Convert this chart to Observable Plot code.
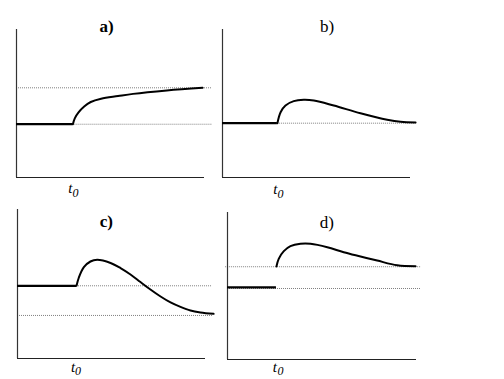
<!DOCTYPE html>
<html><head><meta charset="utf-8">
<script src="https://cdn.jsdelivr.net/npm/d3@7"></script>
<script src="https://cdn.jsdelivr.net/npm/@observablehq/plot@0.6"></script>
<style>
html,body{margin:0;padding:0;background:#fff;}
#chart{position:relative;width:504px;height:379px;overflow:hidden;background:#fff;}
#chart > svg{position:absolute;}
#chart text{font-family:"Liberation Serif","DejaVu Serif",serif !important;}
</style></head><body><div id="chart"></div>
<script>
// ---- data (time t, value v; axis spans 0..10 in both) ----
const panelLabels = ["a)", "b)", "c)", "d)"];
const t0Label = "t", t0Sub = "0";

// panel a
const aT0 = 3.0, aBase = 3.6;
const aCurveT = [3.0, 3.1, 3.3, 3.6, 3.95, 4.5, 5.4, 6.2, 8.0, 9.9];
const aCurveV = [3.6, 4.0, 4.4, 4.8, 5.1, 5.32, 5.5, 5.65, 5.88, 6.06];
const aRefV = [6.06, 3.6];
const aRefFrom = [0, 3.0];
const aRefTo = [10.4, 10.4];

// panel b
const bT0 = 2.92, bBase = 3.67;
const bCurveT = [2.92, 3.09, 3.35, 3.79, 4.32, 4.86, 5.92, 7.34, 8.76, 9.47, 10.27];
const bCurveV = [3.67, 4.41, 4.86, 5.16, 5.25, 5.2, 4.86, 4.34, 3.9, 3.76, 3.72];
const bRefV = [3.67];
const bRefFrom = [2.92];
const bRefTo = [10.3];

// panel c
const cT0 = 3.14, cBase = 4.88;
const cCurveT = [3.14, 3.26, 3.53, 3.88, 4.24, 4.95, 5.48, 6.01, 6.54, 7.07, 7.61, 8.14, 8.67, 9.2, 9.73, 10.43];
const cCurveV = [4.88, 5.42, 6.13, 6.51, 6.62, 6.41, 6.07, 5.64, 5.13, 4.63, 4.16, 3.76, 3.46, 3.22, 3.09, 3.0];
const cRefV = [4.88, 2.89];
const cRefFrom = [3.14, 0];
const cRefTo = [10.37, 10.37];

// panel d
const dT0 = 2.59, dBase = 4.9;
const dCurveT = [2.59, 2.71, 2.98, 3.33, 3.86, 4.39, 5.28, 6.15, 7.04, 7.92, 8.98, 9.95];
const dCurveV = [6.33, 6.85, 7.37, 7.71, 7.87, 7.87, 7.64, 7.3, 7.01, 6.73, 6.41, 6.35];
const dRefV = [6.31, 4.83];
const dRefFrom = [-0.1, 0];
const dRefTo = [10.26, 10.26];

// ---- layout ----
const panels = [
  {label: panelLabels[0], bold: true,  t0: aT0, base: aBase, ct: aCurveT, cv: aCurveV, rv: aRefV, rf: aRefFrom, rt: aRefTo,
   box: {left: 0, top: 0, width: 230, height: 200, ml: 16, mr: 26, mt: 29, mb: 23},
   title: {t: 4.79, v: 10.17}, sub: {tdx: -2.5, sdx: 2.5, tv: -0.72, sdy: 5}},
  {label: panelLabels[1], bold: false, t0: bT0, base: bBase, ct: bCurveT, cv: bCurveV, rv: bRefV, rf: bRefFrom, rt: bRefTo,
   box: {left: 200, top: 0, width: 230, height: 200, ml: 22, mr: 20, mt: 29, mb: 23},
   title: {t: 5.56, v: 10.17}, sub: {tdx: -2, sdx: 3, tv: -0.78, sdy: 5}},
  {label: panelLabels[2], bold: true,  t0: cT0, base: cBase, ct: cCurveT, cv: cCurveV, rv: cRefV, rf: cRefFrom, rt: cRefTo,
   box: {left: 0, top: 190, width: 230, height: 189, ml: 17, mr: 25, mt: 19, mb: 21},
   title: {t: 4.73, v: 9.19}, sub: {tdx: -3.5, sdx: 1.5, tv: -0.55, sdy: 4}},
  {label: panelLabels[3], bold: false, t0: dT0, base: dBase, ct: dCurveT, cv: dCurveV, rv: dRefV, rf: dRefFrom, rt: dRefTo,
   box: {left: 205, top: 190, width: 230, height: 189, ml: 22, mr: 19, mt: 22, mb: 20},
   title: {t: 5.26, v: 9.35}, sub: {tdx: -1.5, sdx: 4, tv: -0.5, sdy: 4}}
];

const chart = document.getElementById("chart");
const serif = "Liberation Serif";

for (const p of panels) {
  const curve = p.ct.map((t, i) => ({t, v: p.cv[i]}));
  const refs = p.rv.map((v, i) => ({v, a: p.rf[i], b: p.rt[i]}));
  const b = p.box;
  const svg = Plot.plot({
    width: b.width, height: b.height,
    marginLeft: b.ml, marginRight: b.mr, marginTop: b.mt, marginBottom: b.mb,
    style: {background: "transparent", overflow: "visible", fontFamily: serif},
    x: {domain: [0, 10], axis: null},
    y: {domain: [0, 10], axis: null},
    marks: [
      Plot.ruleY(refs, {y: "v", x1: "a", x2: "b", stroke: "#808080", strokeWidth: 1, strokeDasharray: "1,1"}),
      Plot.ruleX([0], {y1: 0, y2: 10, stroke: "#333", strokeWidth: 1.2}),
      Plot.ruleY([0], {x1: 0, x2: 10, stroke: "#222", strokeWidth: 1.2}),
      Plot.ruleY([{v: p.base, a: 0, b: p.t0}], {y: "v", x1: "a", x2: "b", stroke: "#000", strokeWidth: 2.3}),
      Plot.line(curve, {x: "t", y: "v", stroke: "#000", strokeWidth: 2, curve: "catmull-rom"}),
      Plot.text([{t: p.title.t, v: p.title.v, s: p.label}], {x: "t", y: "v", text: "s", fontSize: 17,
        fontFamily: serif, fontWeight: p.bold ? "bold" : "normal", fill: "#000"}),
      Plot.text([{t: p.t0, v: p.sub.tv, s: t0Label}], {x: "t", y: "v", text: "s", dx: p.sub.tdx, fontSize: 15,
        fontFamily: serif, fontStyle: "italic", fill: "#000"}),
      Plot.text([{t: p.t0, v: p.sub.tv, s: t0Sub}], {x: "t", y: "v", text: "s", dx: p.sub.sdx, dy: p.sub.sdy, fontSize: 12,
        fontFamily: serif, fontStyle: "italic", fill: "#000"})
    ]
  });
  svg.style.left = b.left + "px";
  svg.style.top = b.top + "px";
  chart.appendChild(svg);
}
</script>
</body></html>
